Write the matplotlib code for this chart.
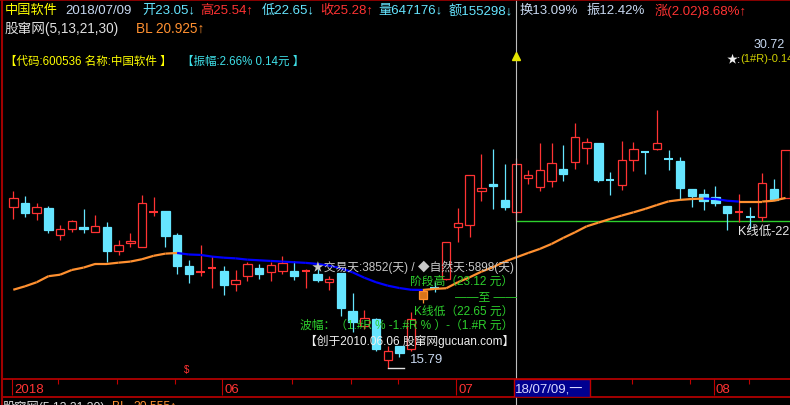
import numpy as np
import matplotlib.pyplot as plt
from matplotlib.patches import Rectangle
from matplotlib.lines import Line2D
import matplotlib.transforms as mtransforms

plt.rcParams['font.family'] = ['Liberation Sans', 'Noto Sans CJK SC', 'DejaVu Sans']

# daily candles, 2018-05 .. 2018-08 (600536 中国软件)
opens = [23.29, 23.47, 23.01, 23.23, 21.96, 22.27, 22.34, 22.13, 22.34, 21.22,
         21.61, 21.43, 23.06, 23.09, 21.98, 20.54, 20.27, 20.46, 20.30, 19.68,
         20.06, 20.43, 20.24, 20.32, 20.30, 20.28, 20.16, 19.79, 20.20, 18.44,
         17.75, 18.07, 16.16, 16.81, 16.68, 19.00, 19.50, 19.93, 22.34, 22.46,
         24.01, 24.35, 23.62, 23.05, 24.61, 24.22, 24.50, 25.05, 25.39, 26.01,
         26.26, 24.55, 24.32, 25.48, 25.85, 25.99, 25.49, 25.42, 24.12, 23.88,
         23.73, 23.31, 23.05, 22.81, 22.83, 24.12, 23.70]
highs = [24.02, 23.79, 23.47, 23.33, 22.43, 22.66, 23.19, 22.91, 22.58, 21.74,
         22.07, 23.84, 23.75, 23.09, 22.07, 20.81, 21.51, 21.00, 20.52, 20.36,
         20.71, 20.61, 20.74, 21.00, 20.78, 20.40, 20.40, 20.08, 20.20, 19.28,
         18.50, 18.10, 16.81, 16.81, 18.40, 19.40, 19.78, 21.64, 23.23, 24.77,
         25.74, 25.98, 25.28, 25.54, 25.00, 26.26, 26.26, 26.16, 27.19, 26.48,
         26.26, 24.89, 26.35, 26.30, 25.85, 27.79, 25.93, 25.59, 24.12, 24.12,
         24.24, 23.31, 23.88, 23.27, 24.86, 24.58, 25.93]
lows = [22.72, 22.83, 22.68, 22.08, 21.76, 22.12, 22.08, 22.13, 20.71, 21.06,
        21.43, 21.40, 22.86, 21.43, 20.16, 19.76, 20.05, 19.53, 19.17, 19.39,
        19.85, 19.93, 19.85, 20.18, 19.88, 19.51, 19.79, 19.43, 18.22, 17.45,
        17.61, 16.58, 15.79, 16.30, 16.58, 18.81, 19.32, 19.90, 21.67, 21.87,
        23.57, 23.19, 23.15, 22.65, 24.35, 24.04, 24.22, 24.50, 25.05, 25.28,
        24.43, 23.85, 24.08, 24.97, 24.81, 25.95, 25.01, 23.62, 23.27, 23.15,
        23.34, 22.22, 22.57, 22.26, 22.61, 23.62, 23.70]
closes = [23.68, 23.01, 23.27, 22.22, 22.24, 22.61, 22.26, 22.38, 21.25, 21.50,
          21.70, 23.45, 23.09, 21.95, 20.55, 20.18, 20.29, 20.48, 19.67, 19.87,
          20.63, 20.18, 20.57, 20.68, 20.07, 20.29, 19.90, 19.93, 18.57, 17.92,
          18.12, 16.68, 16.57, 16.47, 18.07, 19.37, 19.47, 21.64, 22.52, 24.77,
          24.16, 24.27, 23.29, 25.28, 24.77, 25.00, 25.33, 24.81, 26.52, 26.29,
          24.54, 24.54, 25.45, 25.96, 25.83, 26.24, 25.47, 24.16, 23.81, 23.57,
          23.45, 23.01, 23.08, 22.79, 24.38, 23.62, 25.93]
# BL line
bl = [19.43, 19.59, 19.78, 20.06, 20.13, 20.35, 20.46, 20.63, 20.63, 20.69,
      20.74, 20.85, 21.01, 21.11, 21.14, 21.07, 21.05, 20.97, 20.92, 20.89,
      20.83, 20.80, 20.77, 20.74, 20.71, 20.68, 20.63, 20.55, 20.43, 20.24,
      19.99, 19.78, 19.62, 19.51, 19.43, 19.42, 19.47, 19.50, 19.78, 20.01,
      20.27, 20.48, 20.74, 20.94, 21.14, 21.33, 21.56, 21.84, 22.10, 22.38,
      22.55, 22.72, 22.88, 23.03, 23.19, 23.37, 23.54, 23.61, 23.65, 23.67,
      23.65, 23.57, 23.53, 23.53, 23.53, 23.57, 23.70]
marked = [35]
cursor = 43
stage_low = 22.65
top_price = 30.72

month_ticks = [0, 18, 38, 60]
month_labels = ['2018', '06', '07', '08']
week_ticks = [4, 9, 14, 24, 29, 33, 43, 48, 53, 58, 63]

RED = '#FF3333'
CYAN = '#66E5FF'
ORANGE = '#FF9030'
BLUE = '#0000FF'
GREEN = '#2DD02D'
YELLOW = '#FFFF00'
PALE = '#C8D8F0'

W, H = 790, 406
fig = plt.figure(figsize=(7.9, 4.06), dpi=100, facecolor='black')


def put(x, y, s, color, size=9.5, ha='left', va='center', **kw):
    fig.text(x / W, 1 - y / H, s, color=color, fontsize=size, ha=ha, va=va, **kw)


ax = fig.add_axes([3 / W, (H - 380) / H, 787 / W, 380 / H])
ax.set_facecolor('black')
for s in ax.spines.values():
    s.set_visible(False)
ax.set_xticks([])
ax.set_yticks([])
ax.set_xlim(-0.88, 66.38)
ax.set_ylim(15.28, 32.95)

n = len(opens)
w = 0.72
for i in range(n):
    o, h, l, c = opens[i], highs[i], lows[i], closes[i]
    if i in marked:
        col, face = ORANGE, '#D8741A'
    elif c >= o:
        col, face = RED, 'black'
    else:
        col, face = CYAN, CYAN
    ax.vlines(i, l, h, color=col, lw=0.9, zorder=2)
    if abs(c - o) < 0.05:
        ax.hlines(o, i - w / 2, i + w / 2, color=col, lw=1.5, zorder=3)
    else:
        ax.add_patch(Rectangle((i - w / 2, min(o, c)), w, abs(c - o),
                               facecolor=face, edgecolor=col, lw=0.9, zorder=3))

for i in range(1, n):
    col = BLUE if bl[i] < bl[i - 1] else ORANGE
    ax.plot([i - 1, i], [bl[i - 1], bl[i]], color=col, lw=1.6,
            solid_capstyle='butt', zorder=4)

# cursor, low line, markers
ax.axvline(cursor, ymin=-0.07, ymax=1, color='#BEBEBE', lw=0.8, clip_on=False, zorder=5)
ax.hlines(stage_low, cursor, 66.4, color=GREEN, lw=1, zorder=1)
blend = mtransforms.blended_transform_factory(ax.transData, ax.transAxes)
ax.plot([cursor], [1 - 57 / 380], marker='^', ms=6, color='#E6E600',
        transform=blend, zorder=6)
imin = int(np.argmin(lows))
ax.plot([imin, imin + 1.4], [lows[imin], lows[imin]], color='#E0E0E0', lw=1, zorder=5)

# date strip
ax2 = fig.add_axes([3 / W, (H - 398) / H, 787 / W, 18 / H])
ax2.set_facecolor('black')
ax2.set_xlim(ax.get_xlim())
ax2.set_ylim(0, 1)
ax2.set_xticks([])
ax2.set_yticks([])
for k, s in ax2.spines.items():
    s.set_color('#C00000')
    s.set_linewidth(1.2)
    if k in ('left', 'right'):
        s.set_visible(False)
ax2.vlines(np.array(week_ticks) - 0.15, 0.7, 1, color='#C00000', lw=0.8)
ax2.vlines(np.array(month_ticks) - 0.15, 0.1, 1, color='#C00000', lw=0.8)
for t, lab in zip(month_ticks, month_labels):
    ax2.text(t + 0.05, 0.45, lab, color=RED, fontsize=9.5, va='center')
ax2.add_patch(Rectangle((cursor - 0.2, 0.02), 6.5, 0.96, facecolor='#000090',
                        edgecolor='#C00000', lw=1, zorder=4))
ax2.text(cursor - 0.1, 0.45, '18/07/09,一', color='#D8D8FF', fontsize=9.5,
         va='center', zorder=5)

# frame
fig.add_artist(Line2D([2 / W, 2 / W], [0, 1], color='#A00000', lw=1.5))
fig.add_artist(Line2D([0, 1], [1 - 0.5 / H, 1 - 0.5 / H], color='#A00000', lw=1.2))

# header
put(5, 11, '中国软件', YELLOW)
put(65, 11, '2018/07/09', PALE)
put(142, 11, '开23.05↓', CYAN)
put(200, 11, '高25.54↑', RED)
put(262, 11, '低22.65↓', CYAN)
put(320, 11, '收25.28↑', RED)
put(378, 11, '量647176↓', CYAN)
put(449, 11, '额155298↓', CYAN)
put(520, 11, '换13.09%', PALE)
put(587, 11, '振12.42%', PALE)
put(655, 11, '涨(2.02)8.68%↑', RED)
put(5, 29, '股窜网(5,13,21,30)', '#E0E0E0', size=9.8)
put(136, 29, 'BL 20.925↑', ORANGE, size=9.8)
put(5, 62, '【代码:600536 名称:中国软件 】', YELLOW, size=8.3)
put(182, 62, '【振幅:2.66% 0.14元 】', '#3FE0E8', size=8.3)

# right-top marks
put(754, 45, f'{top_price:.2f}', PALE, size=9)
put(727, 59, '★:', '#F0F0F0', size=8)
put(740, 59, '(1#R)-0.14', '#D0D000', size=8)
put(738, 232, 'K线低-22.65', '#E8E8E8', size=9)

# stage annotation
put(514, 267, '★交易天:3852(天) / ◆自然天:5898(天)', '#C8C8C8', size=8.5, ha='right')
put(513, 282, '阶段高（23.12 元）', GREEN, size=8.5, ha='right')
put(517, 297, '——至 ——', GREEN, size=8.5, ha='right')
put(513, 312, 'K线低（22.65 元）', GREEN, size=8.5, ha='right')
put(513, 326, '波幅：（1.#R % -1.#R % ）-（1.#R 元）', GREEN, size=8.5, ha='right')
put(514, 341, '【创于2010.06.06 股窜网gucuan.com】', '#F0F0F0', size=8.5, ha='right')
put(410, 360, f'{lows[imin]:.2f}', PALE)
put(184, 370, '$', RED, size=7)

# footer (cut by the border)
put(3, 401, '股窜网(5,13,21,30)', '#E0E0E0', size=8.8, va='top')
put(112, 401, 'BL', ORANGE, size=8.8, va='top')
put(133, 401, '20.555↑', ORANGE, size=8.8, va='top')

fig.savefig('out.png', dpi=100, facecolor='black')
